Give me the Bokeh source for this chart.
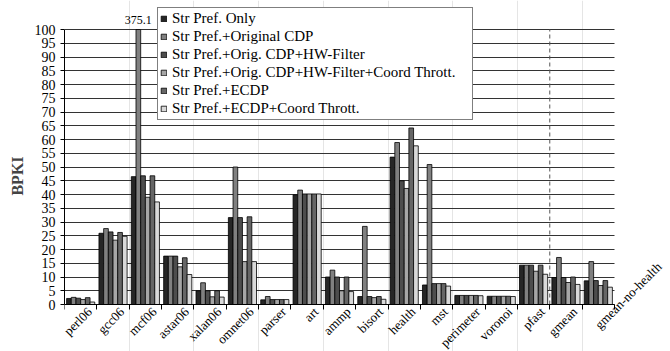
import math
from bokeh.plotting import figure
from bokeh.models import (Range1d, FixedTicker, Label, LabelSet,
                          ColumnDataSource, Legend, LinearAxis)
from bokeh.embed import file_html
from bokeh.resources import INLINE

categories = ["perl06", "gcc06", "mcf06", "astar06", "xalan06", "omnet06",
              "parser", "art", "ammp", "bisort", "health", "mst", "perimeter",
              "voronoi", "pfast", "gmean", "gmean-no-health"]

series_names = ["Str Pref. Only",
                "Str Pref.+Original CDP",
                "Str Pref.+Orig. CDP+HW-Filter",
                "Str Pref.+Orig. CDP+HW-Filter+Coord Thrott.",
                "Str Pref.+ECDP",
                "Str Pref.+ECDP+Coord Thrott."]

str_only = [2.2, 25.9, 46.5, 17.6, 5.0, 31.6, 1.7, 39.9, 10.0, 2.9, 53.6, 7.1, 3.3, 3.0, 14.3, 9.8, 8.6]
orig_cdp = [2.6, 27.6, 375.1, 17.6, 7.9, 50.0, 2.9, 41.6, 12.5, 28.4, 58.9, 50.9, 3.3, 3.0, 14.3, 17.1, 15.6]
orig_hw = [2.3, 26.4, 46.8, 17.6, 5.0, 31.6, 1.8, 40.2, 10.0, 2.9, 45.0, 7.6, 3.3, 3.0, 14.3, 9.8, 8.7]
orig_hw_coord = [1.8, 23.4, 39.0, 13.7, 2.8, 15.6, 1.8, 40.2, 5.0, 2.5, 42.2, 7.6, 3.3, 3.0, 12.1, 8.0, 6.9]
ecdp = [2.5, 26.2, 46.8, 17.0, 5.0, 31.9, 1.8, 40.2, 10.0, 2.9, 64.2, 7.6, 3.3, 3.0, 14.3, 10.0, 8.7]
ecdp_coord = [0.9, 24.8, 37.3, 10.9, 2.7, 15.6, 1.8, 40.2, 4.7, 1.9, 57.7, 6.7, 3.2, 2.9, 11.0, 7.3, 6.3]

series = [str_only, orig_cdp, orig_hw, orig_hw_coord, ecdp, ecdp_coord]
colors = ["#262626", "#808080", "#4d4d4d", "#a6a6a6", "#666666", "#d9d9d9"]

Y_MAX = 100
y_ticks = list(range(0, Y_MAX + 1, 5))
clip_label = "375.1"

FONT = "Liberation Serif"
n = len(categories)
bw = 0.145

# The frame is made larger than the axis range (0..n, 0..100) so that the
# legend, the clipped-value note and the slanted category names fit inside it.
X_END = 18.577
Y_START, Y_END = -17.09, 110.55

p = figure(width=670, height=351, output_backend="svg", toolbar_location=None,
           x_range=Range1d(0, X_END), y_range=Range1d(Y_START, Y_END),
           x_axis_location=None,
           min_border_left=64, min_border_right=5, min_border_top=0,
           min_border_bottom=0)
p.outline_line_color = None
p.background_fill_color = "white"
p.border_fill_color = "white"

renderers = []
for j, (vals, name, col) in enumerate(zip(series, series_names, colors)):
    xs = [i + 0.5 + (j - 2.5) * bw for i in range(n)]
    shown = [min(v, Y_MAX) for v in vals]  # bars are cut at the axis maximum
    src = ColumnDataSource(dict(x=xs, top=shown, value=vals))
    r = p.vbar(x="x", top="top", width=bw, source=src, fill_color=col,
               line_color="black", line_width=0.8)
    renderers.append((name, [r]))

# y axis
p.yaxis.ticker = FixedTicker(ticks=y_ticks)
p.yaxis.bounds = (0, Y_MAX)
p.yaxis.major_tick_out = 4
p.yaxis.major_tick_in = 0
p.yaxis.minor_tick_line_color = None
p.yaxis.major_label_text_font = FONT
p.yaxis.major_label_text_font_size = "14px"
p.yaxis.major_label_text_color = "black"
p.yaxis.major_label_standoff = 5
p.yaxis.axis_line_color = "black"
p.yaxis.axis_label = "BPKI"
p.yaxis.axis_label_text_font = FONT
p.yaxis.axis_label_text_font_style = "bold"
p.yaxis.axis_label_text_font_size = "16px"
p.yaxis.axis_label_standoff = 6

# x axis: drawn at y = 0, ticks at category boundaries pointing down
xaxis = LinearAxis(ticker=FixedTicker(ticks=[], minor_ticks=list(range(0, n + 1))),
                   fixed_location=0, bounds=(0, n))
xaxis.major_tick_in = 0
xaxis.major_tick_out = 0
xaxis.major_label_standoff = 0
xaxis.minor_tick_out = 0
xaxis.minor_tick_in = 5
xaxis.minor_tick_line_color = "black"
xaxis.axis_line_color = "black"
p.add_layout(xaxis, "above")

p.ygrid.ticker = FixedTicker(ticks=y_ticks)
p.ygrid.cross_bounds = (0, n)
p.ygrid.grid_line_color = "#333333"
p.ygrid.grid_line_width = 1

# separator between benchmarks and means
sep = categories.index("gmean")
p.segment(x0=[sep], y0=[0], x1=[sep], y1=[Y_MAX], line_color="#555555",
          line_dash="4 3", line_width=1)

# category labels
centers = [i + 0.5 for i in range(n)]
lab_src = ColumnDataSource(dict(x=centers[:-1], y=[0] * (n - 1), text=categories[:-1]))
p.add_layout(LabelSet(x="x", y="y", text="text", source=lab_src,
                      angle=math.pi / 4, text_align="right", text_baseline="middle",
                      x_offset=9, y_offset=-5, text_font=FONT,
                      text_font_size="13px", text_color="black"))
p.add_layout(Label(x=centers[-1], y=0, text=categories[-1], angle=math.pi / 4,
                   text_align="right", text_baseline="middle", x_offset=61,
                   y_offset=40, text_font=FONT, text_font_size="13px",
                   text_color="black"))

# clipped value label
mcf = categories.index("mcf06")
p.add_layout(Label(x=mcf + 0.5 + (1 - 2.5) * bw, y=Y_MAX, text=clip_label,
                   text_align="center", text_baseline="bottom", y_offset=6,
                   text_font=FONT, text_font_size="12px", text_color="black"))

legend = Legend(items=renderers, location=(93, 231))
legend.label_text_font = FONT
legend.label_text_font_size = "15px"
legend.label_text_color = "black"
legend.glyph_width = 7
legend.glyph_height = 7
legend.label_standoff = 5
legend.label_height = 17
legend.label_width = 298
legend.spacing = 1
legend.padding = 2
legend.margin = 0
legend.border_line_color = "black"
legend.border_line_width = 1
legend.background_fill_color = "white"
legend.background_fill_alpha = 1.0
p.add_layout(legend, "center")

open("out.html", "w").write(file_html(p, INLINE))
